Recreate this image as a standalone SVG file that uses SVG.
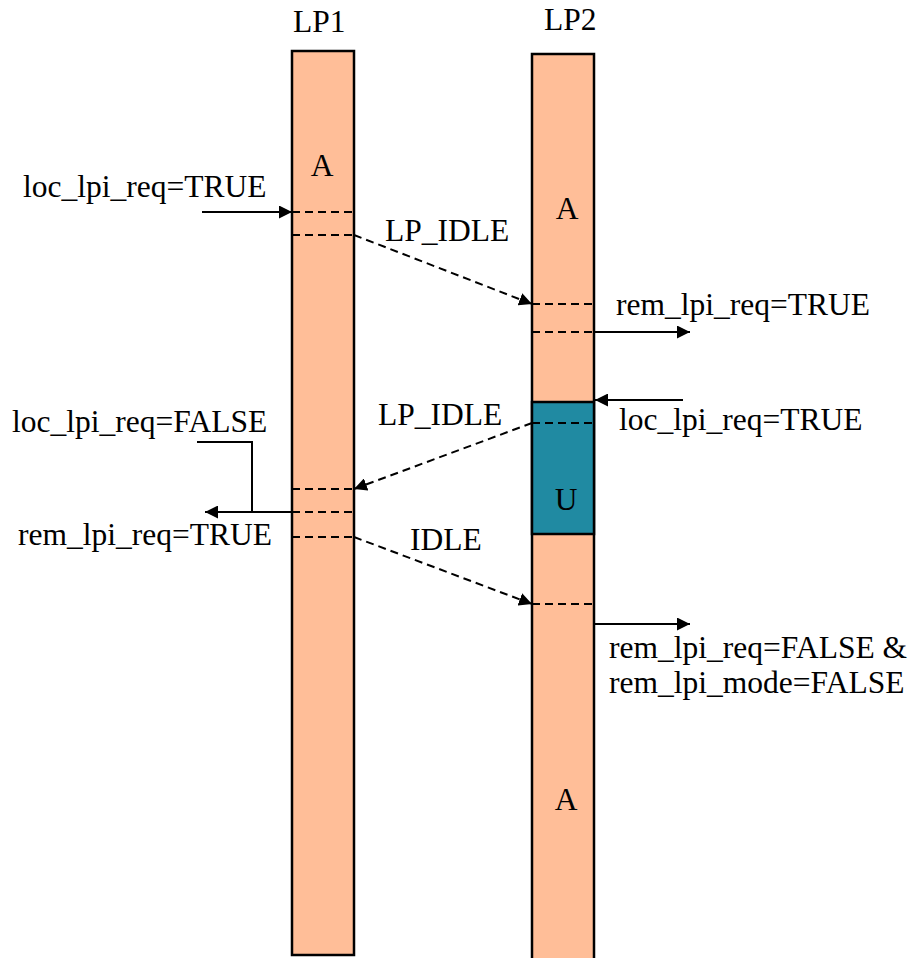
<svg xmlns="http://www.w3.org/2000/svg" width="918" height="958" viewBox="0 0 918 958">
<defs>
<marker id="ah" viewBox="0 0 12 12" refX="12" refY="6" markerWidth="13" markerHeight="13" markerUnits="userSpaceOnUse" orient="auto">
<path d="M0,0 L12,6 L0,12 z" fill="#000"/>
</marker>
</defs>
<style>
text{font-family:"Liberation Serif","Times New Roman",serif;font-size:31.5px;fill:#000}
.bar{fill:#FFBE98;stroke:#000;stroke-width:2.5}
.u{fill:#208AA2;stroke:#000;stroke-width:2.5}
.dash{stroke:#000;stroke-width:2;stroke-dasharray:8 5;fill:none}
.sol{stroke:#000;stroke-width:2;fill:none}
</style>
<rect width="918" height="958" fill="#fff"/>
<g id="LP1">
<rect class="bar" x="292" y="51" width="62" height="904"/>
<text x="293" y="32">LP1</text>
<text x="322" y="176" text-anchor="middle">A</text>
<line class="dash" x1="292" y1="212" x2="354" y2="212"/>
<line class="dash" x1="292" y1="235" x2="354" y2="235"/>
<line class="dash" x1="292" y1="489" x2="354" y2="489"/>
<line class="dash" x1="292" y1="512" x2="354" y2="512"/>
<line class="dash" x1="292" y1="537" x2="354" y2="537"/>
</g>
<g id="LP2">
<rect class="bar" x="532" y="54" width="62" height="910"/>
<rect class="u" x="532" y="402" width="62" height="132"/>
<text x="544" y="30">LP2</text>
<text x="567" y="219" text-anchor="middle">A</text>
<text x="566" y="510" text-anchor="middle">U</text>
<text x="566" y="810" text-anchor="middle">A</text>
<line class="dash" x1="532" y1="304" x2="594" y2="304"/>
<line class="dash" x1="532" y1="332" x2="594" y2="332"/>
<line class="dash" x1="532" y1="423" x2="594" y2="423"/>
<line class="dash" x1="532" y1="604" x2="594" y2="604"/>
</g>
<g id="connectors">
<line class="sol" x1="202" y1="212" x2="292" y2="212" marker-end="url(#ah)"/>
<line class="dash" x1="354" y1="235" x2="532" y2="304" marker-end="url(#ah)"/>
<line class="sol" x1="594" y1="332" x2="690" y2="332" marker-end="url(#ah)"/>
<line class="sol" x1="683" y1="400" x2="595" y2="400" marker-end="url(#ah)"/>
<line class="dash" x1="532" y1="423" x2="354" y2="489" marker-end="url(#ah)"/>
<polyline class="sol" points="197,442 252,442 252,512"/>
<line class="sol" x1="292" y1="512" x2="205" y2="512" marker-end="url(#ah)"/>
<line class="dash" x1="354" y1="537" x2="532" y2="604" marker-end="url(#ah)"/>
<line class="sol" x1="594" y1="624" x2="690" y2="624" marker-end="url(#ah)"/>
</g>
<g id="labels">
<text x="23" y="197">loc_lpi_req=TRUE</text>
<text x="385" y="241">LP_IDLE</text>
<text x="616" y="315">rem_lpi_req=TRUE</text>
<text x="12" y="432">loc_lpi_req=FALSE</text>
<text x="378" y="425">LP_IDLE</text>
<text x="619" y="430">loc_lpi_req=TRUE</text>
<text x="18" y="545">rem_lpi_req=TRUE</text>
<text x="410" y="550">IDLE</text>
<text x="609" y="658">rem_lpi_req=FALSE &amp;</text>
<text x="609" y="693">rem_lpi_mode=FALSE</text>
</g>
</svg>
